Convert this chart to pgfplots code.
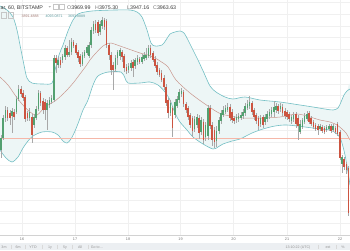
\documentclass[border=0pt]{standalone}
\usepackage{fontspec}
\setmainfont{Liberation Sans}
\usepackage{pgfplots}
\pgfplotsset{compat=1.18}
\usepackage{pgfplotstable}
\definecolor{up}{HTML}{53A070}
\definecolor{dn}{HTML}{CC5440}
\definecolor{wick}{HTML}{A8A8A8}
\definecolor{band}{HTML}{73BFC4}
\definecolor{bandfill}{HTML}{EDF6F6}
\definecolor{mid}{HTML}{C9968D}
\definecolor{gridc}{HTML}{F0F0F0}
\definecolor{prev}{HTML}{F5B7A8}
\definecolor{txt}{HTML}{3A3A3A}
\definecolor{barbg}{HTML}{ECEFF2}
\definecolor{lbl}{HTML}{777777}
\newcommand\fa{\fontsize{3.8}{4}\selectfont}
\newcommand\fb{\fontsize{3.6}{4}\selectfont}
\newcommand\fh{\fontsize{5.3}{6}\selectfont}

% pixel-scale readings: x = position, values = vertical position from top
\pgfplotstableread{
x bt bb wt wb
1.0 138 150 135 158
3.2 118 138 115 140
5.4 110 118 106 122
12.0 111 116 108 133
16.4 99 112 96 114
18.6 89 99 85 101
29.6 112 118 108 121
34.0 117 125 114 128
36.2 109 118 106 120
38.4 93 109 90 111
47.2 103 110 100 130
49.4 100 105 97 108
51.6 98 102 95 104
53.8 58 100 55 102
58.2 60 65 57 68
62.6 56 60 54 63
64.8 48 57 45 60
69.2 52 55 40 57
71.4 42 52 38 55
82.4 55 64 52 66
84.6 52 56 50 58
86.8 47 53 45 55
89.0 45 56 42 58
91.2 30 45 27 48
93.4 24 31 21 34
100.0 24 32 21 35
102.2 20 26 17 29
115.4 58 69 55 72
117.6 52 58 50 65
119.8 50 56 48 60
128.6 66 70 63 73
130.8 63 68 60 71
135.2 60 66 58 69
137.4 58 62 55 65
141.8 57 62 54 64
144.0 55 59 52 61
146.2 55 58 48 60
148.4 48 56 45 58
170.4 103 113 100 116
174.8 102 115 99 118
177.0 99 106 96 108
179.2 92 100 89 103
181.4 91 94 88 97
194.6 119 129 116 132
196.8 117 125 114 128
201.2 120 132 117 135
205.6 125 137 122 141
207.8 108 136 105 140
216.6 131 141 126 147
218.8 120 131 117 134
221.0 113 121 110 124
223.2 110 115 106 117
225.4 108 112 105 114
227.6 107 110 103 112
236.4 117 120 114 123
238.6 116 119 113 122
240.8 115 118 112 120
243.0 112 116 109 119
245.2 106 113 103 116
247.4 104 108 100 110
249.6 102 106 96 109
260.6 118 124 115 127
265.0 117 122 114 125
267.2 114 119 111 122
269.4 112 116 109 119
271.6 110 114 107 117
273.8 107 112 101 117
276.0 106 110 103 113
280.4 106 109 103 112
291.4 117 121 115 124
293.6 115 119 112 122
300.2 124 132 120 134
302.4 120 127 118 129
304.6 116 122 113 124
306.8 114 119 111 121
320.0 126 129 124 131
326.6 127 130 125 132
328.8 126 129 124 131
333.2 126 130 124 132
342.0 157 164 155 173
}\upc

\pgfplotstableread{
x bt bb wt wb
7.6 110 118 107 121
9.8 113 118 110 125
14.2 112 117 109 120
20.8 89 94 86 97
23.0 93 98 90 101
25.2 97 119 95 122
27.4 113 118 111 121
31.8 117 135 114 143
40.6 93 103 91 106
42.8 101 110 98 114
45.0 102 110 99 120
56.0 58 63 55 73
60.4 60 65 57 68
67.0 48 55 46 57
73.6 42 46 40 48
75.8 45 53 43 55
78.0 52 58 50 62
80.2 56 64 54 67
95.6 24 30 20 33
97.8 22 33 20 36
104.4 20 27 18 30
106.6 21 45 19 48
108.8 45 55 43 60
111.0 55 70 52 75
113.2 65 70 62 90
122.0 52 57 50 62
124.2 56 68 54 72
126.4 67 71 64 74
133.0 62 68 59 77
139.6 59 62 57 64
150.6 48 55 45 58
152.8 53 60 51 62
155.0 59 66 56 68
157.2 65 72 62 75
159.4 70 75 68 77
161.6 73 80 70 82
163.8 78 87 75 90
166.0 87 103 84 106
168.2 100 113 98 118
172.6 108 128 106 137
183.6 92 104 90 107
185.8 104 110 102 113
188.0 108 117 106 120
190.2 115 125 113 128
192.4 118 131 116 137
199.0 118 133 115 139
203.4 122 140 119 144
210.0 108 126 105 129
212.2 125 140 122 146
214.4 130 142 127 148
229.8 107 118 104 121
232.0 112 120 109 123
234.2 118 121 116 124
251.8 103 112 101 115
254.0 110 117 108 120
256.2 115 121 113 124
258.4 118 126 116 130
262.8 117 125 115 128
278.2 106 111 104 114
282.6 107 113 104 116
284.8 111 116 108 119
287.0 112 117 110 120
289.2 114 119 112 122
295.8 114 124 112 128
298.0 118 126 115 140
309.0 113 122 111 124
311.2 118 124 116 126
313.4 122 127 120 129
315.6 125 129 123 131
317.8 126 130 124 135
322.2 127 131 125 133
324.4 128 132 126 134
331.0 126 131 124 133
335.4 128 132 126 134
337.6 124 134 122 136
339.8 132 158 130 160
344.2 159 167 157 170
346.4 164 170 162 174
348.6 168 213 166 216
}\dnc

\pgfplotstableread{
x y
0 6
7 10
13 17
17 30
20 45
24 65
27 78
32 83
43 84
52 83
55 70
59 55
63 45
68 31
73 20
78 14
85 12
92 11
100 10.5
115 10
130 10
137 12
142 17
147 30
151 43
155 46
162 45
166 40
170 34
175 32
180 31
184 33
188 40
193 50
198 60
204 73
210 86
216 92
225 97
233 99
245 97
260 100
280 102
300 105
313 107
325 109
333 110
338 108
341 102
344 95
347 91
350 89
}\bup

\pgfplotstableread{
x y
0 150
6 158
12 162
18 157
23 148
28 141
33 136
42 132
52 132
58 135
63 141
67 143
71 139
75 131
79 121
83 110
88 100
93 85
98 76
108 72
121 72
125 78
128 83
140 83
150 82
158 85
165 92
170 100
175 113
180 122
187 130
193 137
203 144
213 149
218 147
223 144
232 141
240 139
252 133
263 129
275 126
287 125
305 127
320 129
330 130
337 134
341 140
345 155
348 172
350 185
}\blo

% band outline: upper band left to right, then lower band right to left
\pgfplotstableread{
x y
0 6
7 10
13 17
17 30
20 45
24 65
27 78
32 83
43 84
52 83
55 70
59 55
63 45
68 31
73 20
78 14
85 12
92 11
100 10.5
115 10
130 10
137 12
142 17
147 30
151 43
155 46
162 45
166 40
170 34
175 32
180 31
184 33
188 40
193 50
198 60
204 73
210 86
216 92
225 97
233 99
245 97
260 100
280 102
300 105
313 107
325 109
333 110
338 108
341 102
344 95
347 91
350 89
350 185
348 172
345 155
341 140
337 134
330 130
320 129
305 127
287 125
275 126
263 129
252 133
240 139
232 141
223 144
218 147
213 149
203 144
193 137
187 130
180 122
175 113
170 100
165 92
158 85
150 82
140 83
128 83
125 78
121 72
108 72
98 76
93 85
88 100
83 110
79 121
75 131
71 139
67 143
63 141
58 135
52 132
42 132
33 136
28 141
23 148
18 157
12 162
6 158
0 150
}\bpoly

\pgfplotstableread{
x y
0 77
8 85
15 95
22 104
30 112
37 115
45 107
55 101
62 95
67 90
74 82
80 74
86 66
90 60
95 54
103 46
110 43
120 46
140 53
148 55
155 58
160 61
168 67
176 80
190 93
205 104
219 113
230 116
243 118
263 118
280 117
297 114
310 117
320 120
330 122
337 125
342 129
346 133
350 140
}\bmid

\begin{document}
\begin{tikzpicture}
\path[use as bounding box] (0,-15pt) rectangle (350pt,235pt);
\clip (0,-15pt) rectangle (350pt,235pt);
\begin{axis}[
  at={(0,0)}, anchor=south west,
  scale only axis, width=350pt, height=235pt,
  xmin=0, xmax=350, ymin=0, ymax=235, y dir=reverse,
  enlargelimits=false, clip=false,
  axis line style={draw=none},
  xtick={22,75,128,180.5,233.5,287,340},
  ytick={2.6,14.2,...,224},
  xticklabels={}, yticklabels={},
  tick style={draw=none},
  grid=major, major grid style={gridc, line width=0.5pt},
]
% Bollinger bands
\addplot[fill=bandfill, draw=none, smooth] table {\bpoly};
\addplot[band, line width=0.6pt, smooth] table {\bup};
\addplot[band, line width=0.6pt, smooth] table {\blo};
\addplot[mid, line width=0.5pt, smooth] table {\bmid};
% previous close level
\addplot[prev, line width=0.6pt] coordinates {(0,138) (350,138)};
% wicks
\addplot[wick, line width=0.4pt, quiver={u=0, v=\thisrow{wb}-\thisrow{wt}}] table[x=x, y=wt] {\upc};
\addplot[wick, line width=0.4pt, quiver={u=0, v=\thisrow{wb}-\thisrow{wt}}] table[x=x, y=wt] {\dnc};
% bodies
\addplot[up, line width=1.5pt, quiver={u=0, v=\thisrow{bb}-\thisrow{bt}}] table[x=x, y=bt] {\upc};
\addplot[dn, line width=1.5pt, quiver={u=0, v=\thisrow{bb}-\thisrow{bt}}] table[x=x, y=bt] {\dnc};

% header texts
\node[anchor=base west, inner sep=0, font=\fh, text=txt] at (axis cs:0.5,9.3) {ar, 60, BITSTAMP};
\fill[gray!60] (axis cs:48.5,6) -- (axis cs:51,6) -- (axis cs:49.75,7.6) -- cycle;
\draw[gray!45, line width=0.3pt] (axis cs:53,4.5) rectangle (axis cs:58,9.5);
\draw[gray!45, line width=0.3pt] (axis cs:59.5,4.5) rectangle (axis cs:64.5,9.5);
\node[anchor=base west, inner sep=0, font=\fh] at (axis cs:67,9.3) {\textcolor{lbl}{O}\textcolor{txt}{3969.99}};
\node[anchor=base west, inner sep=0, font=\fh] at (axis cs:95,9.3) {\textcolor{lbl}{H}\textcolor{txt}{3975.30}};
\node[anchor=base west, inner sep=0, font=\fh] at (axis cs:127,9.3) {\textcolor{lbl}{L}\textcolor{txt}{3947.16}};
\node[anchor=base west, inner sep=0, font=\fh] at (axis cs:153,9.3) {\textcolor{lbl}{C}\textcolor{txt}{3963.63}};
\draw[gray!45, line width=0.3pt] (axis cs:1,12.5) rectangle (axis cs:6.5,18);
\draw[gray!45, line width=0.3pt] (axis cs:8,12.5) rectangle (axis cs:13.5,18);
\node[anchor=base west, inner sep=0, font=\fb, text=mid!80!black] at (axis cs:21.5,17) {3891.4888};
\node[anchor=base west, inner sep=0, font=\fb, text=band!80!black] at (axis cs:45.5,17) {4093.0871};
\node[anchor=base west, inner sep=0, font=\fb, text=band!80!black] at (axis cs:68,17) {3693.8889};

% time axis
\draw[gray!35, line width=0.5pt] (axis cs:0,235) -- (axis cs:350,235);
\node[anchor=base, inner sep=0, font=\fa, text=lbl] at (axis cs:22,240.5) {16};
\node[anchor=base, inner sep=0, font=\fa, text=lbl] at (axis cs:75,240.5) {17};
\node[anchor=base, inner sep=0, font=\fa, text=lbl] at (axis cs:128,240.5) {18};
\node[anchor=base, inner sep=0, font=\fa, text=lbl] at (axis cs:180.5,240.5) {19};
\node[anchor=base, inner sep=0, font=\fa, text=lbl] at (axis cs:233.5,240.5) {20};
\node[anchor=base, inner sep=0, font=\fa, text=lbl] at (axis cs:287,240.5) {21};
\node[anchor=base, inner sep=0, font=\fa, text=lbl] at (axis cs:340,240.5) {22};
% bottom toolbar
\fill[barbg] (axis cs:0,242.5) rectangle (axis cs:350,250);
\node[anchor=base, inner sep=0, font=\fb, text=lbl!80] at (axis cs:4,248.3) {3m};
\node[anchor=base, inner sep=0, font=\fb, text=lbl!80] at (axis cs:18,248.3) {6m};
\node[anchor=base, inner sep=0, font=\fb, text=lbl!80] at (axis cs:33,248.3) {YTD};
\node[anchor=base, inner sep=0, font=\fb, text=lbl!80] at (axis cs:50,248.3) {1y};
\node[anchor=base, inner sep=0, font=\fb, text=lbl!80] at (axis cs:65,248.3) {5y};
\node[anchor=base, inner sep=0, font=\fb, text=lbl!80] at (axis cs:80,248.3) {All};
\node[anchor=base, inner sep=0, font=\fb, text=lbl!80] at (axis cs:97,248.3) {Go to\ldots};
\node[anchor=base, inner sep=0, font=\fb, text=lbl!80] at (axis cs:298,248.3) {13:10:22 (UTC)};
\node[anchor=base, inner sep=0, font=\fb, text=lbl!80] at (axis cs:328,248.3) {ext};
\node[anchor=base, inner sep=0, font=\fb, text=lbl!80] at (axis cs:343,248.3) {\%};
\draw[gray!30, line width=0.3pt] (axis cs:11,244.5) -- (axis cs:11,248.5);
\draw[gray!30, line width=0.3pt] (axis cs:25,244.5) -- (axis cs:25,248.5);
\draw[gray!30, line width=0.3pt] (axis cs:42,244.5) -- (axis cs:42,248.5);
\draw[gray!30, line width=0.3pt] (axis cs:57,244.5) -- (axis cs:57,248.5);
\draw[gray!30, line width=0.3pt] (axis cs:72,244.5) -- (axis cs:72,248.5);
\draw[gray!30, line width=0.3pt] (axis cs:88,244.5) -- (axis cs:88,248.5);
\draw[gray!30, line width=0.3pt] (axis cs:318,244.5) -- (axis cs:318,248.5);
\draw[gray!30, line width=0.3pt] (axis cs:336,244.5) -- (axis cs:336,248.5);
\end{axis}
\end{tikzpicture}
\end{document}
